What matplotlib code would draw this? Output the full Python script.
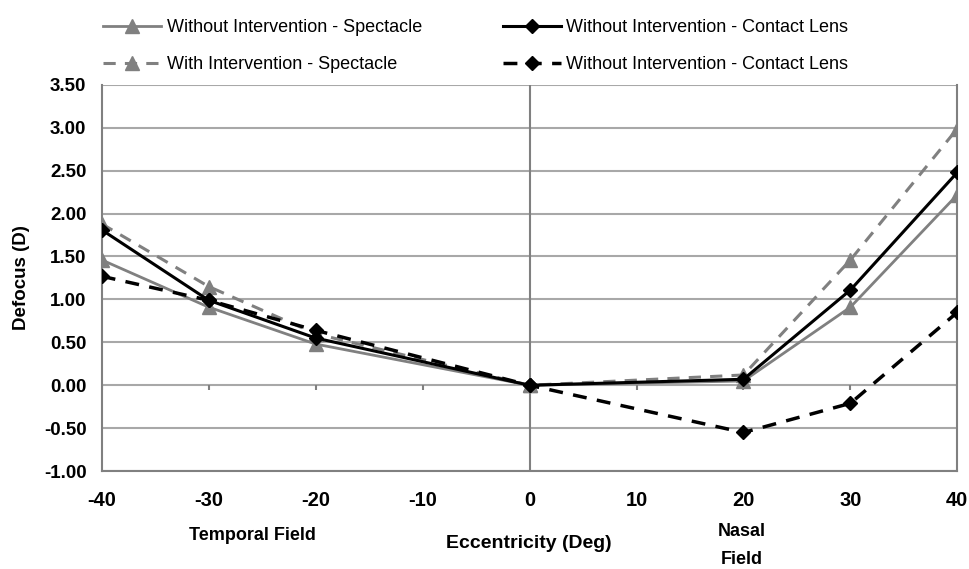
import numpy as np
import matplotlib.pyplot as plt

# Data
ecc = [-40, -30, -20, 0, 20, 30, 40]
wo_spec = [1.46, 0.91, 0.48, 0.0, 0.05, 0.91, 2.22]
wo_cl = [1.81, 0.99, 0.55, 0.0, 0.07, 1.11, 2.48]
with_spec = [1.88, 1.15, 0.60, 0.0, 0.12, 1.46, 2.99]
wo_cl2 = [1.27, 0.99, 0.64, 0.0, -0.55, -0.21, 0.85]

xticks = [-40, -30, -20, -10, 0, 10, 20, 30, 40]
yticks = np.arange(-1.0, 3.51, 0.5)

gray = '#808080'
grid = '#a8a8a8'

plt.rcParams['font.family'] = ['Liberation Sans', 'DejaVu Sans']

fig = plt.figure(figsize=(9.69, 5.69), dpi=100)
ax = fig.add_axes([0.105, 0.172, 0.883, 0.679])

l1, = ax.plot(ecc, wo_spec, color=gray, lw=2, marker='^', ms=10, mec=gray, mfc=gray,
              label='Without Intervention - Spectacle', zorder=4)
l2, = ax.plot(ecc, wo_cl, color='black', lw=2.2, marker='D', ms=7,
              label='Without Intervention - Contact Lens', zorder=5)
l3, = ax.plot(ecc, with_spec, color=gray, lw=2.2, ls=(0, (4, 3)), marker='^', ms=10,
              mec=gray, mfc=gray, label='With Intervention - Spectacle', zorder=3)
l4, = ax.plot(ecc, wo_cl2, color='black', lw=2.5, ls=(0, (4, 3)), marker='D', ms=7,
              label='Without Intervention - Contact Lens', zorder=5)

ax.set_xlim(-40, 40)
ax.set_ylim(-1.0, 3.5)
ax.set_yticks(yticks)
ax.set_yticklabels(['%.2f' % v for v in yticks], fontsize=13.5, fontweight='bold')
ax.set_xticks(xticks)
ax.set_xticklabels([str(v) for v in xticks], fontsize=14.5, fontweight='bold')
ax.tick_params(axis='both', length=0)
ax.tick_params(axis='x', pad=14)
ax.tick_params(axis='y', pad=11)

for y in yticks:
    ax.axhline(y, color=grid, lw=1.5, zorder=1)
ax.axvline(0, color=gray, lw=1.5, zorder=2)
ax.vlines(xticks, -0.06, 0, color=gray, lw=1.5, zorder=2)
for s in ax.spines.values():
    s.set_color(gray)
    s.set_linewidth(1.5)
ax.spines['top'].set_visible(False)

ax.set_ylabel('Defocus (D)', fontsize=13.5, fontweight='bold', labelpad=10)

fig.text(252 / 969, 1 - 535 / 569, 'Temporal Field', ha='center', va='center',
         fontsize=13, fontweight='bold')
fig.text(529 / 969, 1 - 543 / 569, 'Eccentricity (Deg)', ha='center', va='center',
         fontsize=14, fontweight='bold')
fig.text(742 / 969, 1 - 532 / 569, 'Nasal', ha='center', va='center',
         fontsize=13, fontweight='bold')
fig.text(742 / 969, 1 - 559 / 569, 'Field', ha='center', va='center',
         fontsize=13, fontweight='bold')

fig.legend([l1, l3, l2, l4], [l.get_label() for l in [l1, l3, l2, l4]],
           ncol=2, loc='upper left', bbox_to_anchor=(0.09, 0.995), frameon=False,
           fontsize=13, handlelength=3.2, columnspacing=4.5, labelspacing=1.1,
           handletextpad=0.3)

plt.savefig('out.png', dpi=100)
